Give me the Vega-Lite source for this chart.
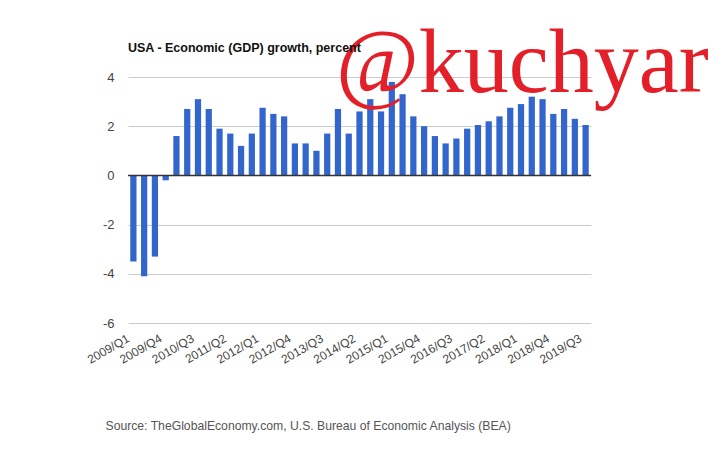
{
  "$schema": "https://vega.github.io/schema/vega-lite/v6.json",
  "autosize": {"type": "none"},
  "width": 463,
  "height": 246,
  "padding": {"left": 128, "top": 77, "right": 129, "bottom": 127},
  "background": "white",
  "title": {
    "text": "USA - Economic (GDP) growth, percent",
    "anchor": "start",
    "frame": "group",
    "font": "Liberation Sans",
    "fontSize": 12.5,
    "fontWeight": "bold",
    "color": "#111111",
    "offset": 23,
    "dy": 58
  },
  "config": {
    "view": {"stroke": null},
    "font": "Liberation Sans"
  },
  "datasets": {
    "gdp": [
      {"quarter": "2009/Q1", "growth": -3.5},
      {"quarter": "2009/Q2", "growth": -4.1},
      {"quarter": "2009/Q3", "growth": -3.3},
      {"quarter": "2009/Q4", "growth": -0.2},
      {"quarter": "2010/Q1", "growth": 1.6},
      {"quarter": "2010/Q2", "growth": 2.7},
      {"quarter": "2010/Q3", "growth": 3.1},
      {"quarter": "2010/Q4", "growth": 2.7},
      {"quarter": "2011/Q1", "growth": 1.9},
      {"quarter": "2011/Q2", "growth": 1.7},
      {"quarter": "2011/Q3", "growth": 1.2},
      {"quarter": "2011/Q4", "growth": 1.7},
      {"quarter": "2012/Q1", "growth": 2.75},
      {"quarter": "2012/Q2", "growth": 2.5},
      {"quarter": "2012/Q3", "growth": 2.4},
      {"quarter": "2012/Q4", "growth": 1.3},
      {"quarter": "2013/Q1", "growth": 1.3},
      {"quarter": "2013/Q2", "growth": 1.0},
      {"quarter": "2013/Q3", "growth": 1.7},
      {"quarter": "2013/Q4", "growth": 2.7},
      {"quarter": "2014/Q1", "growth": 1.7},
      {"quarter": "2014/Q2", "growth": 2.6},
      {"quarter": "2014/Q3", "growth": 3.1},
      {"quarter": "2014/Q4", "growth": 2.6},
      {"quarter": "2015/Q1", "growth": 3.8},
      {"quarter": "2015/Q2", "growth": 3.3},
      {"quarter": "2015/Q3", "growth": 2.4},
      {"quarter": "2015/Q4", "growth": 2.0},
      {"quarter": "2016/Q1", "growth": 1.6},
      {"quarter": "2016/Q2", "growth": 1.3},
      {"quarter": "2016/Q3", "growth": 1.5},
      {"quarter": "2016/Q4", "growth": 1.9},
      {"quarter": "2017/Q1", "growth": 2.05},
      {"quarter": "2017/Q2", "growth": 2.2},
      {"quarter": "2017/Q3", "growth": 2.4},
      {"quarter": "2017/Q4", "growth": 2.75},
      {"quarter": "2018/Q1", "growth": 2.9},
      {"quarter": "2018/Q2", "growth": 3.2},
      {"quarter": "2018/Q3", "growth": 3.1},
      {"quarter": "2018/Q4", "growth": 2.5},
      {"quarter": "2019/Q1", "growth": 2.7},
      {"quarter": "2019/Q2", "growth": 2.3},
      {"quarter": "2019/Q3", "growth": 2.05}
    ],
    "zero": [{"level": 0}],
    "mark": [{"quarter": "2013/Q4", "level": 3.4, "label": "@kuchyar"}]
  },
  "layer": [
    {
      "data": {"name": "gdp"},
      "mark": {"type": "bar", "color": "#3366cc"},
      "encoding": {
        "x": {
          "field": "quarter",
          "type": "nominal",
          "sort": null,
          "scale": {
            "paddingInner": 0.42,
            "paddingOuter": 0.21,
            "domain": ["2009/Q1","2009/Q2","2009/Q3","2009/Q4","2010/Q1","2010/Q2","2010/Q3","2010/Q4","2011/Q1","2011/Q2","2011/Q3","2011/Q4","2012/Q1","2012/Q2","2012/Q3","2012/Q4","2013/Q1","2013/Q2","2013/Q3","2013/Q4","2014/Q1","2014/Q2","2014/Q3","2014/Q4","2015/Q1","2015/Q2","2015/Q3","2015/Q4","2016/Q1","2016/Q2","2016/Q3","2016/Q4","2017/Q1","2017/Q2","2017/Q3","2017/Q4","2018/Q1","2018/Q2","2018/Q3","2018/Q4","2019/Q1","2019/Q2","2019/Q3"]
          },
          "axis": {
            "values": ["2009/Q1","2009/Q4","2010/Q3","2011/Q2","2012/Q1","2012/Q4","2013/Q3","2014/Q2","2015/Q1","2015/Q4","2016/Q3","2017/Q2","2018/Q1","2018/Q4","2019/Q3"],
            "labelAngle": -30,
            "labelAlign": "right",
            "labelBaseline": "middle",
            "labelPadding": 14,
            "labelOffset": -5,
            "labelFontSize": 12,
            "labelColor": "#444444",
            "labelOverlap": false,
            "ticks": false,
            "domain": false,
            "grid": false,
            "title": "Source: TheGlobalEconomy.com, U.S. Bureau of Economic Analysis (BEA)",
            "titleX": -23,
            "titleY": 106,
            "titleAlign": "left",
            "titleAnchor": "start",
            "titleBaseline": "alphabetic",
            "titleFontSize": 12.2,
            "titleFontWeight": "normal",
            "titleColor": "#555555"
          }
        },
        "y": {
          "field": "growth",
          "type": "quantitative",
          "scale": {"domain": [-6, 4], "nice": false, "zero": false},
          "axis": {
            "values": [-6, -5, -4, -3, -2, -1, 0, 1, 2, 3, 4],
            "labelExpr": "datum.value % 2 === 0 ? '' + datum.value : ''",
            "gridColor": {"condition": {"test": "datum.value % 2 === 0", "value": "#cccccc"}, "value": "#ebebeb"},
            "ticks": false,
            "domain": false,
            "labelPadding": 14,
            "labelFontSize": 13,
            "labelColor": "#444444",
            "title": null
          }
        }
      }
    },
    {
      "data": {"name": "zero"},
      "mark": {"type": "rule", "color": "#333333", "strokeWidth": 1.5},
      "encoding": {"y": {"field": "level", "type": "quantitative"}}
    },
    {
      "data": {"name": "mark"},
      "mark": {"type": "text", "align": "left", "baseline": "alphabetic", "dx": -2, "font": "Liberation Serif", "fontSize": 90, "color": "#e3202a"},
      "encoding": {
        "x": {"field": "quarter", "type": "nominal"},
        "y": {"field": "level", "type": "quantitative"},
        "text": {"field": "label"}
      }
    }
  ]
}
